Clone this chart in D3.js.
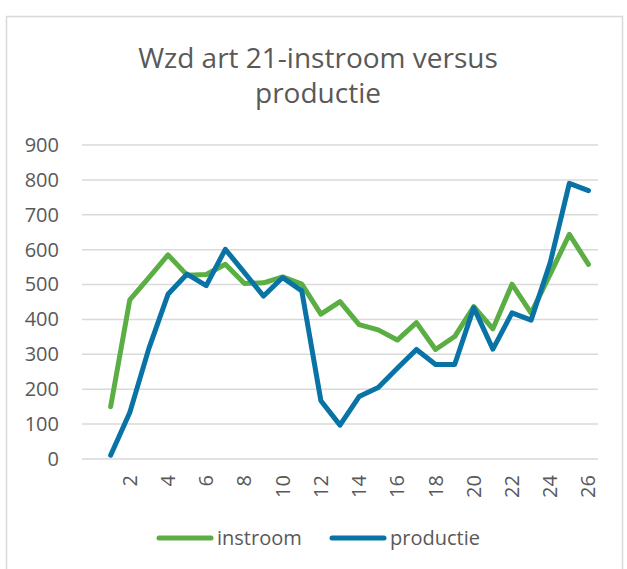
<!DOCTYPE html>
<html>
<head>
<meta charset="utf-8">
<script src="https://cdn.jsdelivr.net/npm/d3@7"></script>
<style>
  body { margin: 0; background: #fff; }
  text { font-family: "Open Sans", sans-serif; fill: #595959; }
</style>
</head>
<body>
<script>
// data
var weeks = ["", "1","2","3","4","5","6","7","8","9","10","11","12","13",
             "14","15","16","17","18","19","20","21","22","23","24","25","26"];
var instroom = [null, 150, 456, 520, 585, 527, 529, 558, 503, 505, 522, 501, 415, 451,
                385, 370, 341, 391, 314, 351, 437, 373, 501, 418, 530, 644, 558];
var productie = [null, 11, 133, 317, 472, 530, 497, 601, 534, 467, 520, 482, 167, 97,
                 179, 205, 260, 314, 271, 271, 434, 315, 419, 398, 563, 790, 769];
var yTicks = [0, 100, 200, 300, 400, 500, 600, 700, 800, 900];
var titleLines = ["Wzd art 21-instroom versus", "productie"];

var w = 627;
var h = 569;
var green = "#5bae44";
var blue = "#0873a4";

var svg = d3.select("body")
    .append("svg")
    .attr("width", w)
    .attr("height", h);

// chart border
svg.append("rect")
    .attr("x", 6.5)
    .attr("y", 16.5)
    .attr("width", 616)
    .attr("height", 600)
    .attr("fill", "none")
    .attr("stroke", "#d9d9d9")
    .attr("stroke-width", 1.5);

// title
svg.selectAll(".title")
    .data(titleLines)
    .enter()
    .append("text")
    .attr("x", 318)
    .attr("y", function(d, i) { return 68 + i * 35; })
    .attr("text-anchor", "middle")
    .style("font-size", "28px")
    .text(function(d) { return d; });

// scales
var x = d3.scaleBand()
    .domain(weeks)
    .range([82, 598]);

var y = d3.scaleLinear()
    .domain([0, 900])
    .range([459, 145]);

// gridlines
svg.append("g")
    .selectAll("line")
    .data(yTicks)
    .enter()
    .append("line")
    .attr("x1", 82)
    .attr("x2", 598)
    .attr("y1", function(d) { return y(d); })
    .attr("y2", function(d) { return y(d); })
    .attr("stroke", "#d9d9d9")
    .attr("stroke-width", 1.5);

// y axis labels
var y_axis = d3.axisLeft(y)
    .tickValues(yTicks)
    .tickSize(0)
    .tickPadding(0);

var gy = svg.append("g")
    .attr("transform", "translate(59,0)")
    .call(y_axis);
gy.select(".domain").remove();
gy.selectAll("text")
    .style("font-size", "20px")
    .attr("fill", "#595959");

// x axis labels (every second week, rotated)
var x_axis = d3.axisBottom(x)
    .tickValues(weeks.filter(function(d) { return d !== "" && +d % 2 === 0; }))
    .tickSize(0)
    .tickPadding(0);

var gx = svg.append("g")
    .attr("transform", "translate(0,475)")
    .call(x_axis);
gx.select(".domain").remove();
gx.selectAll("text")
    .style("font-size", "20px")
    .attr("fill", "#595959")
    .attr("transform", "rotate(-90)")
    .attr("text-anchor", "end")
    .attr("x", 0)
    .attr("y", 0)
    .attr("dy", "0.35em");

// lines
var line = d3.line()
    .defined(function(d) { return d.v !== null; })
    .x(function(d) { return x(d.k) + x.bandwidth() / 2; })
    .y(function(d) { return y(d.v); });

function series(values) {
    return weeks.map(function(k, i) { return { k: k, v: values[i] }; });
}

svg.append("path")
    .datum(series(instroom))
    .attr("d", line)
    .attr("fill", "none")
    .attr("stroke", green)
    .attr("stroke-width", 5)
    .attr("stroke-linejoin", "round")
    .attr("stroke-linecap", "round");

svg.append("path")
    .datum(series(productie))
    .attr("d", line)
    .attr("fill", "none")
    .attr("stroke", blue)
    .attr("stroke-width", 5)
    .attr("stroke-linejoin", "round")
    .attr("stroke-linecap", "round");

// legend
var legend = [
    { name: "instroom", color: green, x: 159 },
    { name: "productie", color: blue, x: 332 }
];
var lg = svg.append("g")
    .selectAll("g")
    .data(legend)
    .enter()
    .append("g")
    .attr("transform", function(d) { return "translate(" + d.x + ",538)"; });
lg.append("line")
    .attr("x1", 0)
    .attr("x2", 52)
    .attr("stroke", function(d) { return d.color; })
    .attr("stroke-width", 5)
    .attr("stroke-linecap", "round");
lg.append("text")
    .attr("x", 58)
    .attr("dy", "0.35em")
    .style("font-size", "20px")
    .text(function(d) { return d.name; });
</script>
</body>
</html>
